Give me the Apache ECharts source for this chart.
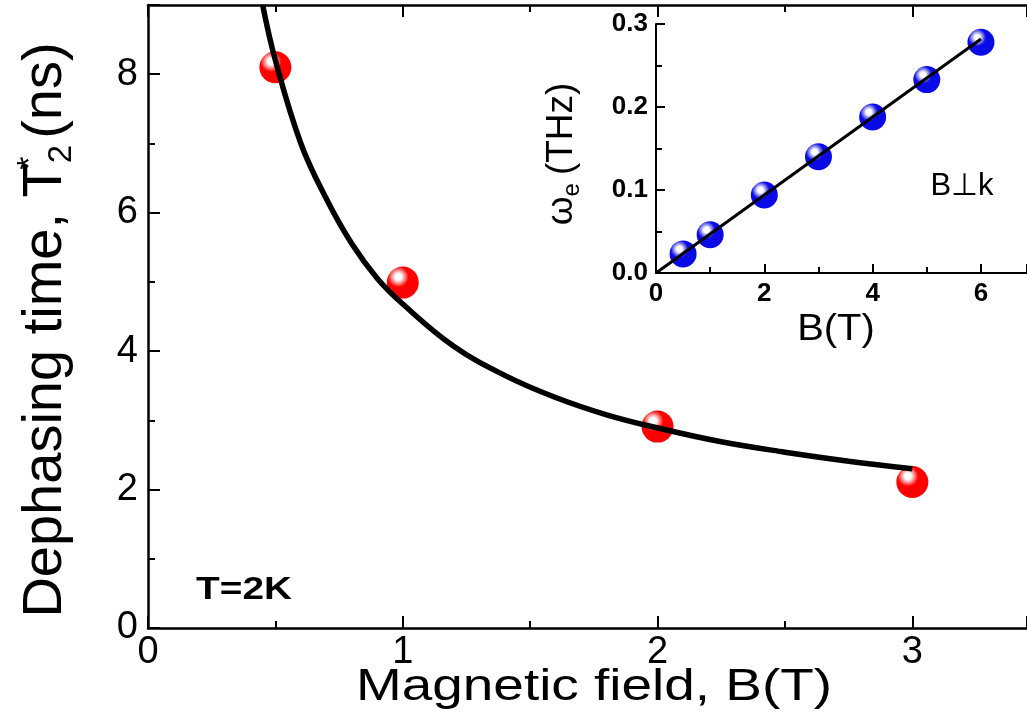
<!DOCTYPE html>
<html>
<head>
<meta charset="utf-8">
<script src="https://cdn.jsdelivr.net/npm/echarts@6/dist/echarts.min.js"></script>
<style>
  html, body { margin: 0; padding: 0; background: #fff; }
  #main { width: 1027px; height: 720px; }
</style>
</head>
<body>
<div id="main"></div>
<script>
// main panel: measured T2* vs B
var fieldB = [0.5, 1.0, 2.0, 3.0];
var dephasingT2 = [8.1, 4.99, 2.91, 2.11];
// fitted curve
var fitB = [0.45, 0.5, 0.6, 0.7, 0.8, 0.9, 1.0, 1.2, 1.4, 1.6, 1.8, 2.0, 2.25, 2.5, 2.75, 3.0];
var fitT2 = [9.0, 8.2, 7.0, 6.2, 5.55, 5.05, 4.68, 4.07, 3.65, 3.33, 3.08, 2.89, 2.69, 2.54, 2.41, 2.3];
// inset: precession frequency vs B
var insetB = [0.5, 1, 2, 3, 4, 5, 6];
var insetOmega = [0.023, 0.046, 0.094, 0.14, 0.188, 0.233, 0.278];
var insetFitB = [0, 6];
var insetFitOmega = [0, 0.282];

var FONT = "'Liberation Sans', Arial, sans-serif";

function pairs(xs, ys) {
  return xs.map(function (x, i) { return [x, ys[i]]; });
}

function ball(base, mid) {
  return {
    type: "radial", x: 0.36, y: 0.32, r: 0.72,
    colorStops: [
      { offset: 0, color: "#ffffff" },
      { offset: 0.14, color: "#ffffff" },
      { offset: 0.26, color: mid },
      { offset: 0.45, color: base },
      { offset: 1, color: base },
    ],
  };
}

function valueAxis(extra) {
  var ax = {
    type: "value",
    axisLine: { show: true, lineStyle: { color: "#000", width: 2.5 } },
    axisTick: { show: true, inside: true, length: 12, lineStyle: { color: "#000", width: 2 } },
    minorTick: { show: true, splitNumber: 2, length: 7, lineStyle: { color: "#000", width: 2 } },
    splitLine: { show: false },
    minorSplitLine: { show: false },
  };
  return Object.assign(ax, extra);
}

var chartDom = document.getElementById("main");
var myChart = echarts.init(chartDom);
var option;

option = {
  animation: false,
  backgroundColor: "#fff",
  grid: [
    { left: 148, right: 0, top: 5, bottom: 92 },
    { left: 656, right: 0, top: 24, bottom: 447 },
  ],
  xAxis: [
    valueAxis({
      gridIndex: 0, min: 0, max: 3.45, interval: 1,
      axisLabel: { color: "#000", fontSize: 38, fontFamily: FONT, margin: 6, showMaxLabel: false },
    }),
    valueAxis({
      gridIndex: 0, position: "top", min: 0, max: 3.45, interval: 1,
      axisLabel: { show: false },
    }),
    valueAxis({
      gridIndex: 1, min: 0, max: 6.85, interval: 2,
      axisLine: { show: true, lineStyle: { color: "#000", width: 2 } },
      axisTick: { show: true, inside: true, length: 9, lineStyle: { color: "#000", width: 2 } },
      minorTick: { show: true, splitNumber: 2, length: 6, lineStyle: { color: "#000", width: 2 } },
      axisLabel: { color: "#000", fontSize: 26, fontWeight: "bold", fontFamily: FONT, margin: 8, showMaxLabel: false },
    }),
  ],
  yAxis: [
    valueAxis({
      gridIndex: 0, min: 0, max: 9, interval: 2,
      axisLabel: { color: "#000", fontSize: 38, fontFamily: FONT, margin: 10, showMaxLabel: false },
    }),
    valueAxis({
      gridIndex: 1, min: 0, max: 0.3, interval: 0.1,
      axisLine: { show: true, lineStyle: { color: "#000", width: 2 } },
      axisTick: { show: true, inside: true, length: 9, lineStyle: { color: "#000", width: 2 } },
      minorTick: { show: true, splitNumber: 2, length: 6, lineStyle: { color: "#000", width: 2 } },
      axisLabel: {
        color: "#000", fontSize: 26, fontWeight: "bold", fontFamily: FONT, margin: 8,
        formatter: function (v) { return v.toFixed(1); },
      },
    }),
  ],
  series: [
    {
      type: "scatter", xAxisIndex: 0, yAxisIndex: 0, z: 2,
      symbolSize: 32,
      itemStyle: { color: ball("#ff0000", "#ffa0a0"), opacity: 1 },
      data: pairs(fieldB, dephasingT2),
    },
    {
      type: "line", xAxisIndex: 0, yAxisIndex: 0, z: 3,
      smooth: 0.4, showSymbol: false, clip: true,
      lineStyle: { color: "#000", width: 5.5 },
      data: pairs(fitB, fitT2),
    },
    {
      type: "scatter", xAxisIndex: 2, yAxisIndex: 1, z: 2,
      symbolSize: 27,
      itemStyle: { color: ball("#0a0ae6", "#a0a0f0"), opacity: 1 },
      data: pairs(insetB, insetOmega),
    },
    {
      type: "line", xAxisIndex: 2, yAxisIndex: 1, z: 3,
      showSymbol: false,
      lineStyle: { color: "#000", width: 3 },
      data: pairs(insetFitB, insetFitOmega),
    },
  ],
  graphic: [
    {
      type: "text", x: 594, y: 688, scaleX: 1.22,
      style: { text: "Magnetic field, B(T)", fill: "#000", fontSize: 45, fontFamily: FONT, textAlign: "center", textVerticalAlign: "middle" },
    },
    {
      type: "text", x: 46, y: 330, rotation: Math.PI / 2,
      style: {
        text: "{a|Dephasing time, T}{sup|*}{sub|2}{a|(ns)}",
        fill: "#000", fontFamily: FONT, textAlign: "center", textVerticalAlign: "middle",
        rich: {
          a: { fontSize: 56, fontFamily: FONT, lineHeight: 64, verticalAlign: "middle" },
          sup: { fontSize: 34, fontFamily: FONT, width: 0, verticalAlign: "top", lineHeight: 64 },
          sub: { fontSize: 33, fontFamily: FONT, verticalAlign: "bottom", lineHeight: 64, padding: [0, 6, 0, 0] },
        },
      },
    },
    {
      type: "text", x: 244, y: 590, scaleX: 1.25,
      style: { text: "T=2K", fill: "#000", fontSize: 31, fontWeight: "bold", fontFamily: FONT, textAlign: "center", textVerticalAlign: "middle" },
    },
    {
      type: "text", x: 836, y: 330, scaleX: 1.08,
      style: { text: "B(T)", fill: "#000", fontSize: 37, fontFamily: FONT, textAlign: "center", textVerticalAlign: "middle" },
    },
    {
      type: "text", x: 562, y: 154, rotation: Math.PI / 2,
      style: {
        text: "{a|ω}{sub|e}{a|(THz)}",
        fill: "#000", fontFamily: FONT, textAlign: "center", textVerticalAlign: "middle",
        rich: {
          a: { fontSize: 37, fontFamily: FONT, lineHeight: 44, verticalAlign: "middle" },
          sub: { fontSize: 24, fontFamily: FONT, lineHeight: 44, verticalAlign: "bottom", padding: [0, 8, 0, 0] },
        },
      },
    },
    {
      type: "text", x: 962, y: 186,
      style: { text: "B⊥k", fill: "#000", fontSize: 31, fontFamily: FONT, textAlign: "center", textVerticalAlign: "middle" },
    },
  ],
};

option && myChart.setOption(option);
</script>
</body>
</html>
